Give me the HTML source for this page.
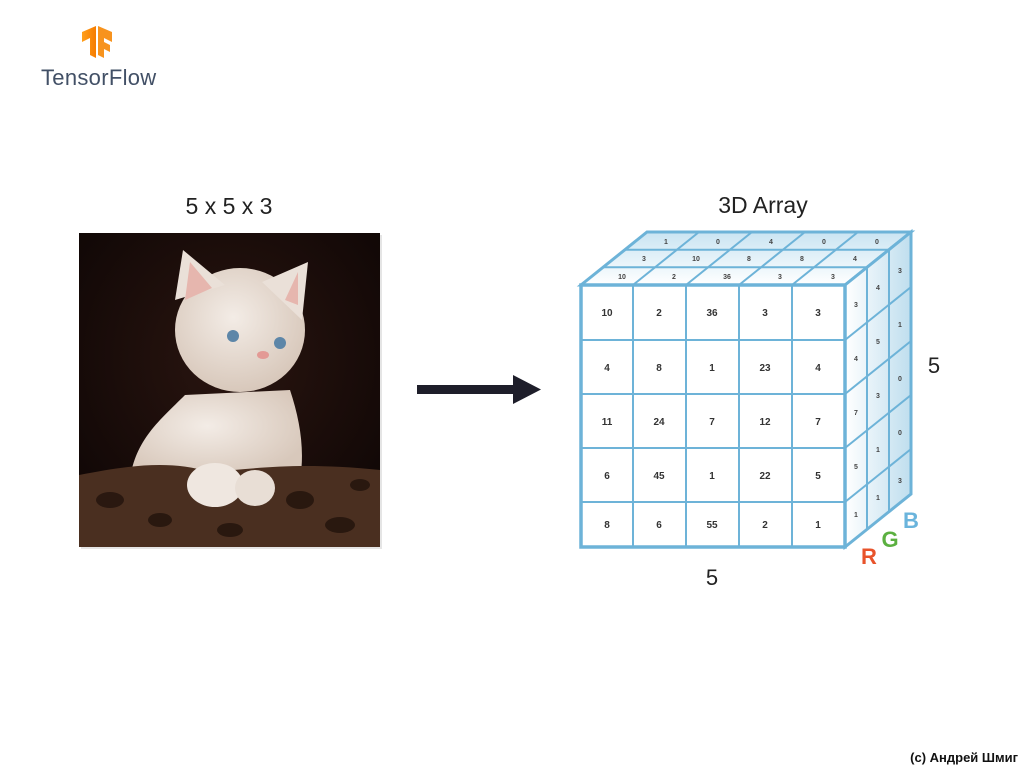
<!DOCTYPE html>
<html><head><meta charset="utf-8"><style>
html,body{margin:0;padding:0;background:#fff;}
body{width:1024px;height:768px;position:relative;overflow:hidden;font-family:"Liberation Sans",sans-serif;}
</style></head><body>
<svg width="1024" height="768" viewBox="0 0 1024 768" xmlns="http://www.w3.org/2000/svg" style="position:absolute;left:0;top:0">
<defs>
<linearGradient id="tf" x1="0" x2="1"><stop offset="0" stop-color="#ff9f1c"/><stop offset="1" stop-color="#f57c00"/></linearGradient>
<linearGradient id="rf" x1="0" x2="1"><stop offset="0" stop-color="#ffffff"/><stop offset="1" stop-color="#bfdeee"/></linearGradient>
<linearGradient id="tp" x1="0" y1="1" x2="0" y2="0"><stop offset="0" stop-color="#ffffff"/><stop offset="1" stop-color="#c9e4f2"/></linearGradient>
<radialGradient id="bg" cx="0.5" cy="0.4" r="0.7"><stop offset="0" stop-color="#2a1510"/><stop offset="1" stop-color="#0e0605"/></radialGradient>
<radialGradient id="fur" cx="0.45" cy="0.4" r="0.6"><stop offset="0" stop-color="#f3ece6"/><stop offset="1" stop-color="#d8c8bb"/></radialGradient>
<clipPath id="ph"><rect x="79" y="233" width="301" height="314"/></clipPath>
</defs>
<!-- logo -->
<g transform="translate(82,26)">
<polygon points="0,6 14,0 14,32 8,29 8,12 0,16" fill="url(#tf)"/>
<polygon points="16,0 30,6 30,16 22,12 22,16 28,19 28,26 22,23 22,32 16,29" fill="#f7931e"/>
</g>
<text x="41" y="85" font-size="22" fill="#425066" letter-spacing="0.3">TensorFlow</text>
<!-- titles -->
<text x="229" y="214" font-size="23" fill="#222" text-anchor="middle">5 x 5 x 3</text>
<text x="763" y="213" font-size="23" fill="#222" text-anchor="middle">3D Array</text>
<!-- photo -->
<rect x="81" y="235" width="301" height="314" fill="#ccc" opacity="0.5"/>
<g clip-path="url(#ph)">
<rect x="79" y="233" width="301" height="314" fill="url(#bg)"/>
<path d="M130,480 C135,440 160,420 185,395 L290,390 C300,420 305,450 300,480 Z" fill="url(#fur)"/>
<ellipse cx="240" cy="330" rx="65" ry="62" fill="url(#fur)"/>
<path d="M175,300 L183,250 L225,285 Z" fill="#eae0d8"/>
<path d="M262,282 L308,262 L302,320 Z" fill="#eae0d8"/>
<path d="M185,300 L190,262 L212,288 Z" fill="#e6b6ae"/>
<path d="M298,272 L298,305 L285,300 Z" fill="#e6b6ae"/>
<circle cx="233" cy="336" r="6" fill="#5d86a8"/><circle cx="280" cy="343" r="6" fill="#5d86a8"/>
<ellipse cx="263" cy="355" rx="6" ry="4" fill="#e39a95"/>
<path d="M79,475 C130,465 170,460 210,472 C260,468 300,462 380,470 L380,547 L79,547 Z" fill="#4a2f20"/>
<ellipse cx="215" cy="485" rx="28" ry="22" fill="#efe7e0"/>
<ellipse cx="255" cy="488" rx="20" ry="18" fill="#e8ded5"/>
<g fill="#22130c" opacity="0.8">
<ellipse cx="110" cy="500" rx="14" ry="8"/><ellipse cx="160" cy="520" rx="12" ry="7"/>
<ellipse cx="300" cy="500" rx="14" ry="9"/><ellipse cx="340" cy="525" rx="15" ry="8"/>
<ellipse cx="230" cy="530" rx="13" ry="7"/><ellipse cx="360" cy="485" rx="10" ry="6"/>
</g>
</g>
<!-- arrow -->
<rect x="417" y="385" width="100" height="9" fill="#1e1e2a"/>
<polygon points="513,375 541,389.5 513,404" fill="#1e1e2a"/>
<!-- cube -->
<g stroke="#6db3d8" fill="none">
<polygon points="581,285 845,285 911,232 647,232" fill="url(#tp)" stroke-width="3"/>
<polygon points="845,285 911,232 911,494 845,547" fill="url(#rf)" stroke-width="3"/>
<rect x="581" y="285" width="264" height="262" fill="#fff" stroke-width="3.5"/>
<g stroke-width="2">
<line x1="633" y1="285" x2="633" y2="547"/><line x1="686" y1="285" x2="686" y2="547"/>
<line x1="739" y1="285" x2="739" y2="547"/><line x1="792" y1="285" x2="792" y2="547"/>
<line x1="581" y1="340" x2="845" y2="340"/><line x1="581" y1="394" x2="845" y2="394"/>
<line x1="581" y1="448" x2="845" y2="448"/><line x1="581" y1="502" x2="845" y2="502"/>
<line x1="633" y1="285" x2="699" y2="232"/><line x1="686" y1="285" x2="752" y2="232"/>
<line x1="739" y1="285" x2="805" y2="232"/><line x1="792" y1="285" x2="858" y2="232"/>
<line x1="603" y1="267.3" x2="867" y2="267.3"/><line x1="625" y1="249.7" x2="889" y2="249.7"/>
<line x1="845" y1="340" x2="911" y2="287"/><line x1="845" y1="394" x2="911" y2="341"/>
<line x1="845" y1="448" x2="911" y2="395"/><line x1="845" y1="502" x2="911" y2="449"/>
<line x1="867" y1="267.3" x2="867" y2="529.3"/><line x1="889" y1="249.7" x2="889" y2="511.7"/>
</g>
</g>
<g font-size="10" font-weight="bold" fill="#333" text-anchor="middle">
<text x="607" y="316">10</text><text x="659" y="316">2</text><text x="712" y="316">36</text><text x="765" y="316">3</text><text x="818" y="316">3</text>
<text x="607" y="371">4</text><text x="659" y="371">8</text><text x="712" y="371">1</text><text x="765" y="371">23</text><text x="818" y="371">4</text>
<text x="607" y="425">11</text><text x="659" y="425">24</text><text x="712" y="425">7</text><text x="765" y="425">12</text><text x="818" y="425">7</text>
<text x="607" y="479">6</text><text x="659" y="479">45</text><text x="712" y="479">1</text><text x="765" y="479">22</text><text x="818" y="479">5</text>
<text x="607" y="528">8</text><text x="659" y="528">6</text><text x="712" y="528">55</text><text x="765" y="528">2</text><text x="818" y="528">1</text>
</g>
<g font-size="7" font-weight="bold" fill="#444" text-anchor="middle">
<text x="622" y="279">10</text><text x="674" y="279">2</text><text x="727" y="279">36</text><text x="780" y="279">3</text><text x="833" y="279">3</text>
<text x="644" y="261">3</text><text x="696" y="261">10</text><text x="749" y="261">8</text><text x="802" y="261">8</text><text x="855" y="261">4</text>
<text x="666" y="244">1</text><text x="718" y="244">0</text><text x="771" y="244">4</text><text x="824" y="244">0</text><text x="877" y="244">0</text>
<text x="856" y="307">3</text><text x="856" y="361">4</text><text x="856" y="415">7</text><text x="856" y="469">5</text><text x="856" y="517">1</text>
<text x="878" y="290">4</text><text x="878" y="344">5</text><text x="878" y="398">3</text><text x="878" y="452">1</text><text x="878" y="500">1</text>
<text x="900" y="273">3</text><text x="900" y="327">1</text><text x="900" y="381">0</text><text x="900" y="435">0</text><text x="900" y="483">3</text>
</g>
<text x="934" y="373" font-size="22" fill="#222" text-anchor="middle">5</text>
<text x="712" y="585" font-size="22" fill="#222" text-anchor="middle">5</text>
<text x="869" y="564" font-size="22" font-weight="bold" fill="#e8532b" text-anchor="middle">R</text>
<text x="890" y="547" font-size="22" font-weight="bold" fill="#5bb040" text-anchor="middle">G</text>
<text x="911" y="528" font-size="22" font-weight="bold" fill="#6ab4dc" text-anchor="middle">B</text>
<text x="1018" y="762" font-size="13" font-weight="bold" fill="#111" text-anchor="end">(c) Андрей Шмиг</text>
</svg>
</body></html>
